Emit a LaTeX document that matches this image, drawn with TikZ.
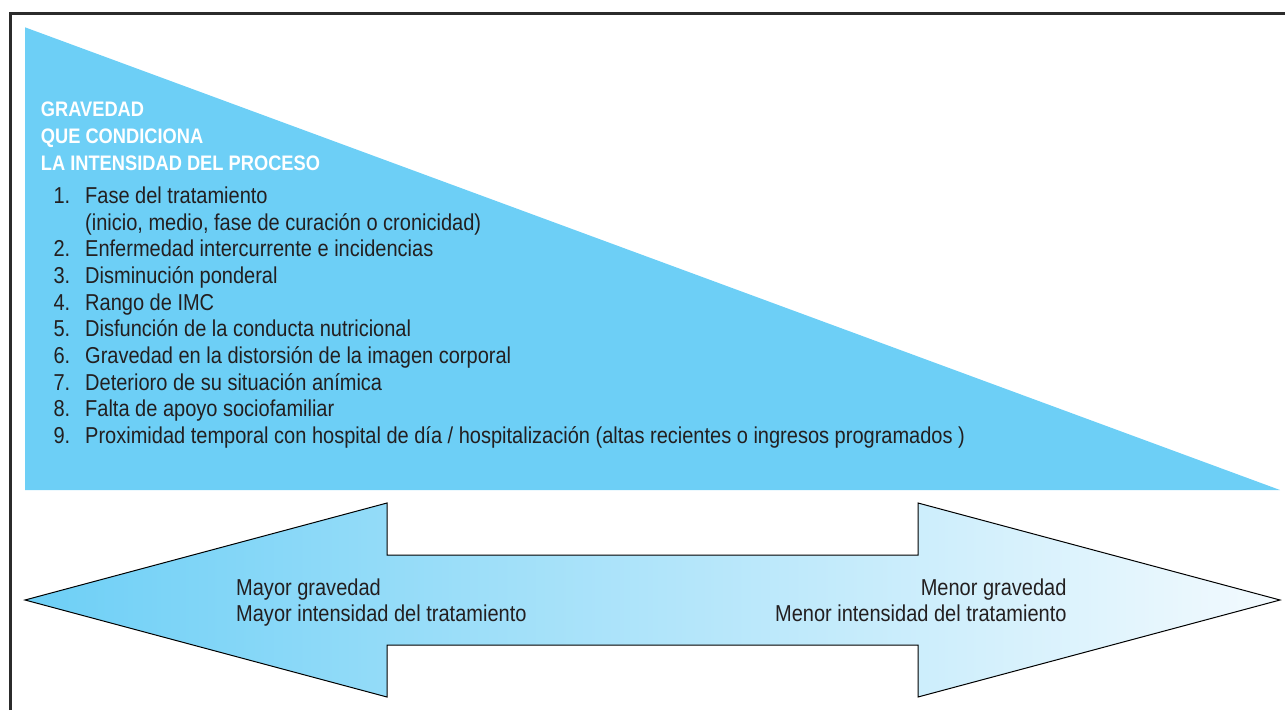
\documentclass[tikz,border=0pt]{standalone}
\usepackage{fontspec}
\setmainfont{Liberation Sans}[FakeStretch=0.87]
\definecolor{triblue}{HTML}{6DCFF6}
\definecolor{arrowend}{HTML}{F3FAFE}
\definecolor{textgray}{HTML}{231F20}
\definecolor{framegray}{HTML}{2B2B2B}
\begin{document}
\begin{tikzpicture}[x=1pt,y=-1pt,
  txt/.style={anchor=base west, inner sep=0pt, text=textgray, font=\fontsize{23}{26}\selectfont},
  txtr/.style={txt, anchor=base east},
  head/.style={anchor=base west, inner sep=0pt, text=white, font=\bfseries\fontsize{21}{26}\selectfont},
  framestyle/.style={draw=framegray, line width=2.8pt},
  arrowshape/.style={draw=black, line width=1pt, left color=triblue, right color=arrowend, shading angle=90}
]
\useasboundingbox (0,0) rectangle (1285,710);
% frame
\draw[framestyle] (10.5,710) -- (10.5,13.3) -- (1285,13.3);
% triangle
\fill[triblue] (25,27.3) -- (1280,490) -- (25,490) -- cycle;
% heading
\node[head] (h1) at (40.7,116.7) {GRAVEDAD};
\node[head] (h2) at (40.7,143.3) {QUE CONDICIONA};
\node[head] (h3) at (40.7,170) {LA INTENSIDAD DEL PROCESO};
% list numbers
\foreach \n/\y in {1/203.3,2/256.7,3/283.3,4/310,5/336.7,6/363.3,7/390,8/416.7,9/443.3}{
  \node[txt] (num\n) at (53.3,\y) {\n.};
}
% list items
\node[txt] (item1) at (85,203.3) {Fase del tratamiento};
\node[txt] (item1b) at (85,230) {(inicio, medio, fase de curación o cronicidad)};
\node[txt] (item2) at (85,256.7) {Enfermedad intercurrente e incidencias};
\node[txt] (item3) at (85,283.3) {Disminución ponderal};
\node[txt] (item4) at (85,310) {Rango de IMC};
\node[txt] (item5) at (85,336.7) {Disfunción de la conducta nutricional};
\node[txt] (item6) at (85,363.3) {Gravedad en la distorsión de la imagen corporal};
\node[txt] (item7) at (85,390) {Deterioro de su situación anímica};
\node[txt] (item8) at (85,416.7) {Falta de apoyo sociofamiliar};
\node[txt] (item9) at (85,443.3) {Proximidad temporal con hospital de día / hospitalización (altas recientes o ingresos programados )};
% double arrow
\path[arrowshape] (25,600) -- (387,503) -- (387,555) -- (918,555) -- (918,503)
  -- (1280,600) -- (918,697) -- (918,645) -- (387,645) -- (387,697) -- cycle;
\node[txt] (l1) at (236,595) {Mayor gravedad};
\node[txt] (l2) at (236,621.7) {Mayor intensidad del tratamiento};
\node[txtr] (r1) at (1066.7,595) {Menor gravedad};
\node[txtr] (r2) at (1066.7,621.7) {Menor intensidad del tratamiento};
\end{tikzpicture}
\end{document}
